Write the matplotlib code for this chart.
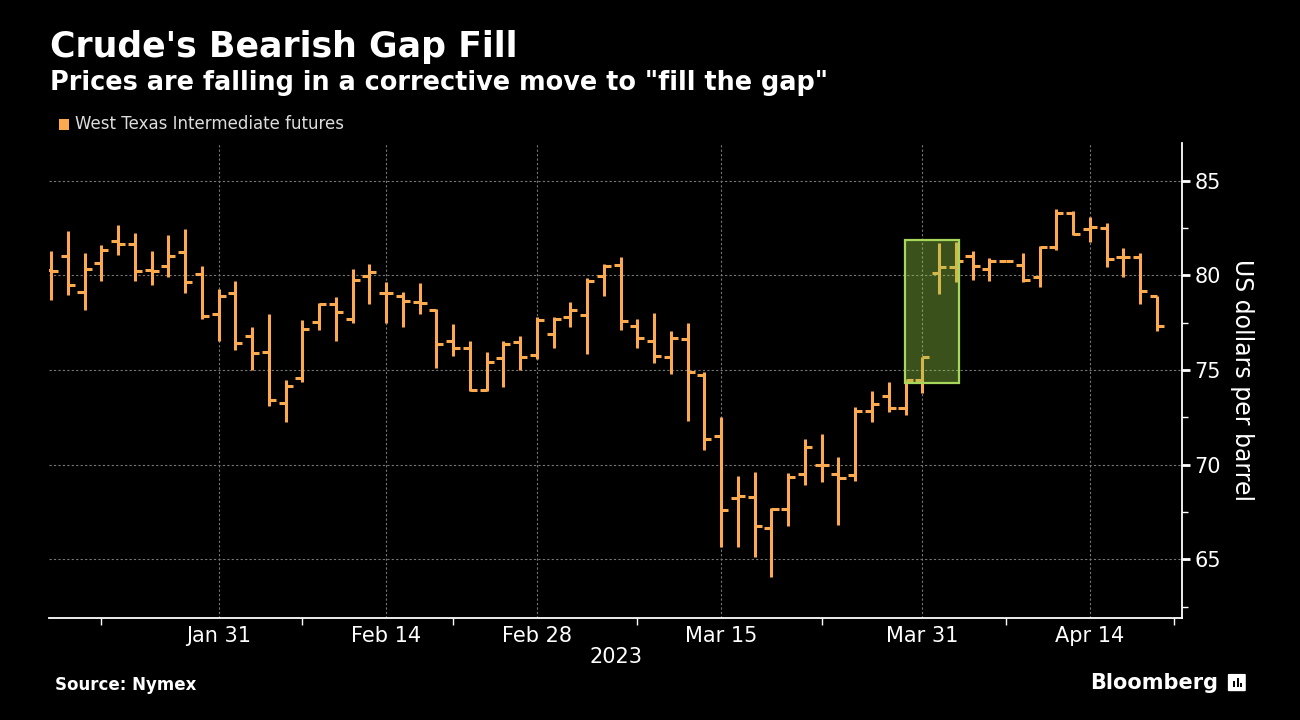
import matplotlib
matplotlib.use('Agg')
import matplotlib.pyplot as plt
from matplotlib.patches import Rectangle, FancyBboxPatch

plt.rcParams['font.family'] = ['DejaVu Sans']

# WTI daily bars, Jan 17 - Apr 20 2023 (trading days, Apr 7 shown flat)
opens = [80.3, 81.04, 79.15, 80.65, 81.83, 81.67, 80.30, 80.51, 81.25, 80.07,
         77.95, 79.06, 76.81, 75.93, 73.25, 74.57, 77.53, 78.50, 77.69, 79.98,
         79.06, 78.89, 78.59, 78.15, 76.54, 76.16, 73.95, 75.63, 76.46, 75.80,
         76.91, 77.78, 77.92, 79.98, 80.53, 77.35, 76.54, 75.68, 76.63, 74.75,
         71.54, 68.23, 68.30, 66.64, 67.65, 69.51, 69.99, 69.49, 69.46, 72.86,
         73.64, 72.98, 74.45, 80.12, 80.47, 81.04, 80.35, 80.79, 80.56, 79.91,
         81.50, 83.29, 82.45, 82.50, 81.00, 80.97, 78.92]
highs = [81.27, 82.37, 81.21, 81.62, 82.64, 82.23, 81.27, 82.15, 82.48, 80.51,
         79.27, 79.73, 77.25, 77.97, 74.48, 77.62, 78.53, 78.85, 80.33, 80.61,
         79.63, 79.15, 79.59, 78.22, 77.42, 76.56, 75.98, 76.56, 76.82, 77.83,
         77.83, 78.62, 79.89, 80.61, 80.95, 77.71, 78.04, 77.09, 77.48, 74.92,
         72.54, 69.41, 69.64, 67.70, 69.58, 71.35, 71.63, 70.39, 73.07, 73.92,
         74.39, 74.45, 75.68, 81.71, 81.79, 81.27, 80.91, 80.79, 81.21, 81.57,
         83.50, 83.38, 83.11, 82.76, 81.44, 81.21, 78.92]
lows = [78.71, 78.97, 78.18, 79.71, 81.09, 79.71, 79.50, 79.94, 79.06, 77.69,
        76.56, 76.07, 75.01, 73.11, 72.28, 74.39, 77.12, 76.54, 77.48, 78.50,
        77.48, 77.30, 77.97, 75.10, 75.75, 73.87, 73.87, 74.09, 75.01, 75.58,
        76.16, 77.30, 75.86, 78.94, 77.12, 76.16, 75.35, 74.80, 72.33, 70.78,
        65.64, 65.67, 65.14, 64.09, 66.77, 68.93, 69.11, 66.82, 69.16, 72.23,
        72.81, 72.63, 73.78, 79.03, 79.64, 79.77, 79.71, 80.79, 79.68, 79.41,
        81.32, 82.15, 81.79, 80.47, 79.91, 78.50, 77.04]
closes = [80.26, 79.50, 80.33, 81.35, 81.67, 80.21, 80.21, 81.04, 79.68, 77.88,
          78.89, 76.42, 75.89, 73.42, 74.16, 77.16, 78.50, 78.06, 79.77, 80.17,
          79.06, 78.66, 78.53, 76.38, 76.16, 73.95, 75.42, 76.38, 75.68, 77.62,
          77.69, 78.18, 79.71, 80.51, 77.60, 76.68, 75.75, 76.68, 74.89, 71.35,
          67.58, 68.35, 66.77, 67.65, 69.37, 70.92, 69.99, 69.32, 72.84, 73.21,
          72.98, 74.45, 75.68, 80.44, 80.79, 80.51, 80.79, 80.79, 79.77, 81.53,
          83.29, 82.20, 82.55, 80.86, 80.97, 79.20, 77.34]

label_pos = [10, 20, 29, 40, 52, 62]
label_txt = ['Jan 31', 'Feb 14', 'Feb 28', 'Mar 15', 'Mar 31', 'Apr 14']
minor_pos = [3, 15, 24, 35, 46, 57, 67]
gap_box = (50.95, 74.3, 54.2, 81.9)  # x0, y0, x1, y1 of highlighted gap

orange = '#FBAA50'
x = list(range(len(opens)))
tick = 0.42

fig = plt.figure(figsize=(13, 7.2), dpi=100, facecolor='black')
ax = fig.add_axes([0.0377, 0.1417, 0.8715, 0.6597])
ax.set_facecolor('black')

ax.vlines(x, lows, highs, color=orange, lw=2.2, zorder=3)
ax.hlines(opens, [i - tick for i in x], x, color=orange, lw=2.2, zorder=3)
ax.hlines(closes, x, [i + tick for i in x], color=orange, lw=2.2, zorder=3)

x0, y0, x1, y1 = gap_box
ax.add_patch(Rectangle((x0, y0), x1 - x0, y1 - y0, facecolor='#96CD46', alpha=0.4,
                       edgecolor='none', zorder=4))
ax.add_patch(Rectangle((x0, y0), x1 - x0, y1 - y0, facecolor='none',
                       edgecolor='#A6D65A', lw=1.6, zorder=5))

ax.set_xlim(-0.12, 67.5)
ax.set_ylim(61.9, 87.0)

ax.yaxis.tick_right()
ax.set_yticks([65, 70, 75, 80, 85])
ax.set_yticks([62.5, 67.5, 72.5, 77.5, 82.5], minor=True)
ax.tick_params(axis='y', which='major', colors='white', labelsize=15, length=6, width=2, direction='out', pad=3)
ax.tick_params(axis='y', which='minor', colors='white', length=4, width=1, direction='out')
ax.set_xticks(label_pos)
ax.set_xticklabels(label_txt)
ax.set_xticks(minor_pos, minor=True)
ax.tick_params(axis='x', which='major', colors='white', labelsize=15, length=0, pad=6)
ax.tick_params(axis='x', which='minor', colors='white', length=5, width=1, direction='out')

ax.grid(True, which='major', color='#777777', linestyle=(0, (2, 2)), lw=0.8, zorder=1)
for s in ['left', 'top']:
    ax.spines[s].set_visible(False)
for s in ['right', 'bottom']:
    ax.spines[s].set_color('white')
    ax.spines[s].set_linewidth(1.3)

ax.yaxis.set_label_position('right')
ax.set_ylabel('US dollars per barrel', color='white', fontsize=17, rotation=-90, labelpad=24)

fig.text(0.0385, 0.935, "Crude's Bearish Gap Fill", color='white', fontsize=25, fontweight='bold', va='center')
fig.text(0.0385, 0.885, 'Prices are falling in a corrective move to "fill the gap"', color='white',
         fontsize=18.4, fontweight='bold', va='center')
fig.patches.append(Rectangle((0.0450, 0.8194), 0.0077, 0.0153, transform=fig.transFigure,
                             facecolor=orange, edgecolor='none'))
fig.text(0.0575, 0.828, 'West Texas Intermediate futures', color='#DDDDDD', fontsize=12, va='center')
fig.text(0.474, 0.087, '2023', color='white', fontsize=15, ha='center', va='center')
fig.text(0.042, 0.049, 'Source: Nymex', color='white', fontsize=12, fontweight='bold', va='center')
fig.text(0.937, 0.051, 'Bloomberg', color='white', fontsize=15, fontweight='bold', ha='right', va='center')
fig.patches.append(FancyBboxPatch((0.9455, 0.041), 0.0118, 0.022, boxstyle='round,pad=0.001',
                                  transform=fig.transFigure, facecolor='white', edgecolor='none'))
for bx, bh in [(0.9487, 0.008), (0.9514, 0.012), (0.9541, 0.006)]:
    fig.patches.append(Rectangle((bx, 0.046), 0.0014, bh, transform=fig.transFigure,
                                 facecolor='black', edgecolor='none'))

fig.savefig('out.png', dpi=100, facecolor='black')
